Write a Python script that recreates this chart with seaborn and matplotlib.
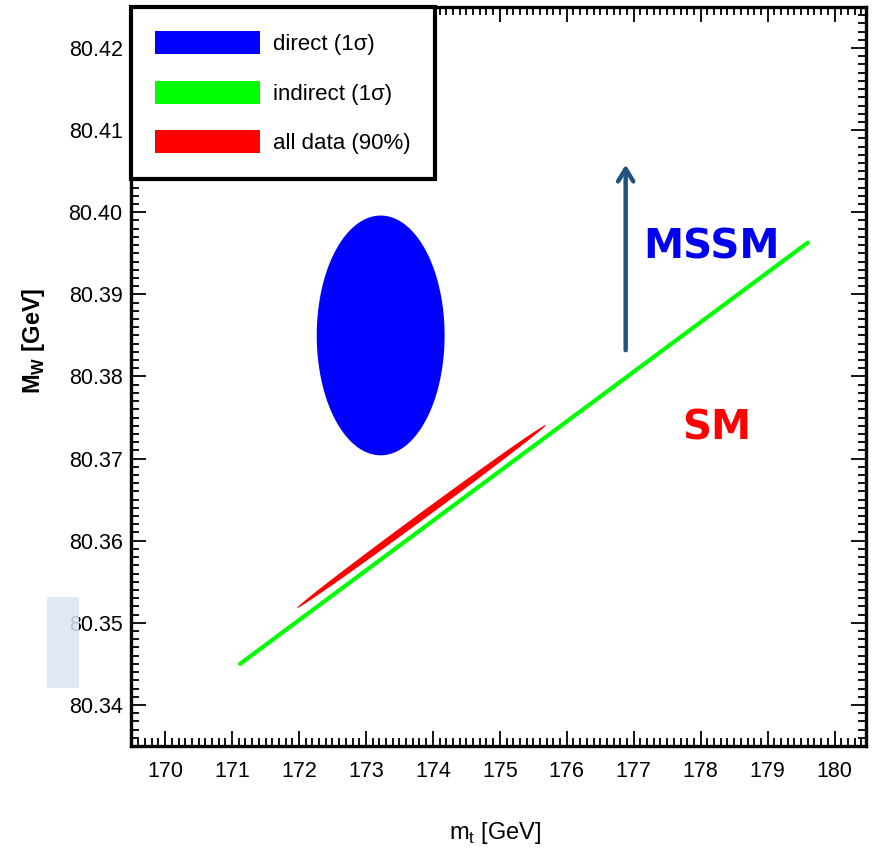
import numpy as np
import matplotlib
matplotlib.use("Agg")
import matplotlib.pyplot as plt
import seaborn as sns
from matplotlib.patches import Patch, Rectangle
from matplotlib.ticker import MultipleLocator

# direct measurement, 1 sigma ellipse (centre, full widths)
direct_mt, direct_mw = 173.22, 80.385
direct_dmt, direct_dmw = 1.91, 0.0292

# indirect (1 sigma) band, end points
indirect_mt = [171.12, 179.6]
indirect_mw = [80.345, 80.3963]

# all data (90%) ellipse, ends of long axis and half width
alldata_mt = [171.97, 175.69]
alldata_mw = [80.3518, 80.3741]
alldata_half = [0.031, -0.00034]

# MSSM arrow
arrow_mt = 176.88
arrow_mw = [80.3832, 80.4058]

labels = ["direct (1\u03c3)", "indirect (1\u03c3)", "all data (90%)"]
colors = ["#0000ff", "#00ff00", "#ff0000"]

sns.set_style("ticks")
plt.rcParams['font.family'] = ['Liberation Sans Narrow', 'Liberation Sans', 'DejaVu Sans']
plt.rcParams['mathtext.fontset'] = 'custom'
plt.rcParams['mathtext.rm'] = 'Liberation Sans'
plt.rcParams['mathtext.bf'] = 'Liberation Sans:bold'
for k in ['text.color', 'axes.labelcolor', 'xtick.color', 'ytick.color', 'axes.edgecolor']:
    plt.rcParams[k] = 'black'

fig = plt.figure(figsize=(8.75, 8.51), dpi=100)
ax = fig.add_axes([0.1497, 0.1234, 0.8400, 0.8684])

t = np.linspace(0, 2 * np.pi, 300)
ax.fill(direct_mt + direct_dmt / 2 * np.cos(t), direct_mw + direct_dmw / 2 * np.sin(t),
        color=colors[0], lw=0, zorder=2)

sns.lineplot(x=indirect_mt, y=indirect_mw, ax=ax, color=colors[1], lw=3, zorder=2)

c = np.array([np.mean(alldata_mt), np.mean(alldata_mw)])
a = np.array([alldata_mt[1] - alldata_mt[0], alldata_mw[1] - alldata_mw[0]]) / 2
b = np.array(alldata_half)
ax.fill(c[0] + a[0] * np.cos(t) + b[0] * np.sin(t), c[1] + a[1] * np.cos(t) + b[1] * np.sin(t),
        color=colors[2], lw=0, zorder=3)

ax.annotate("", xy=(arrow_mt, arrow_mw[1]), xytext=(arrow_mt, arrow_mw[0]),
            arrowprops=dict(arrowstyle="->,head_length=0.9,head_width=0.55", color="#21527f",
                            lw=3.2, shrinkA=0, shrinkB=0, capstyle="round", joinstyle="round"))
ax.text(178.16, 80.3957, "MSSM", color="#0000ee", fontsize=29, fontweight="bold",
        family="DejaVu Sans", ha="center", va="center")
ax.text(178.24, 80.3737, "SM", color="#ff0000", fontsize=29, fontweight="bold",
        family="DejaVu Sans", ha="center", va="center")

ax.set_xlim(169.49, 180.47)
ax.set_ylim(80.335, 80.425)
ax.xaxis.set_major_locator(MultipleLocator(1))
ax.xaxis.set_minor_locator(MultipleLocator(0.1))
ax.yaxis.set_major_locator(MultipleLocator(0.01))
ax.yaxis.set_minor_locator(MultipleLocator(0.001))
ax.set_xticks(ax.get_xticks())
ax.set_xticklabels([f"{v:g}" for v in ax.get_xticks()])
ax.set_yticks(ax.get_yticks())
ax.set_yticklabels([f"{v:.2f}" for v in ax.get_yticks()])
ax.set_xlim(169.49, 180.47)
ax.set_ylim(80.335, 80.425)

ax.tick_params(which="both", direction="in", top=True, right=True, width=1.3, labelsize=15.5)
ax.tick_params(which="major", length=11)
ax.tick_params(which="minor", length=5.5)
ax.tick_params(axis="x", pad=11)
ax.tick_params(axis="y", pad=6)
for s in ax.spines.values():
    s.set_linewidth(2.4)

ax.set_xlabel("m$_\\mathregular{t}$ [GeV]", fontsize=17)
ax.xaxis.set_label_coords(0.495, -0.100)
ax.set_ylabel("M$_\\mathbf{W}$ [GeV]", fontsize=17, fontweight="bold")
ax.yaxis.set_label_coords(-0.114, 0.548)

handles = [Patch(facecolor=col, edgecolor="none") for col in colors]
leg = ax.legend(handles, labels, loc="upper left", bbox_to_anchor=(0, 1), borderaxespad=0,
                fontsize=16, handlelength=4.7, handleheight=1.2, labelspacing=1.15,
                handletextpad=0.6, borderpad=1.1, fancybox=False, framealpha=1)
leg.get_frame().set_edgecolor("black")
leg.get_frame().set_linewidth(3)
leg.set_zorder(5)

fig.patches.append(Rectangle((0.0537, 0.1915), 0.0366, 0.107, transform=fig.transFigure,
                             facecolor="#dae6f3", alpha=0.85, edgecolor="none", zorder=10))

fig.savefig("out.png", dpi=100)
